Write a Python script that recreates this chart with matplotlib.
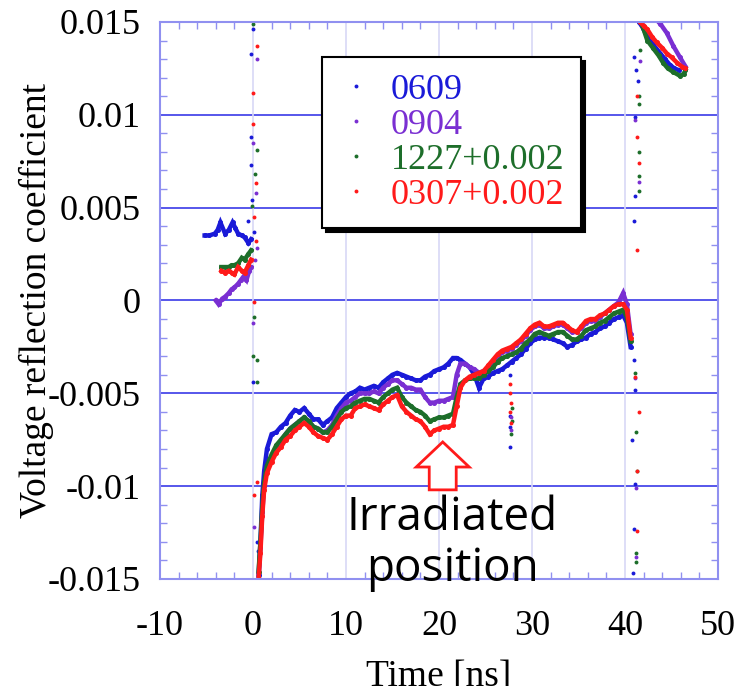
import numpy as np
import matplotlib
matplotlib.use('Agg')
import matplotlib.pyplot as plt
from matplotlib.lines import Line2D
from matplotlib.patches import FancyArrow

plt.rcParams['font.family'] = ['Liberation Serif', 'DejaVu Serif']
plt.rcParams['axes.unicode_minus'] = False
serif = 'Liberation Serif'

# ---- data ----
labels = ['0609', '0904', '1227+0.002', '0307+0.002']
colors = ['#1a1ad8', '#7a2fd2', '#1d6e2a', '#ff1a1a']

# trace before the first reflection (x < 0)
pre_x = {
    '0609': [-5.2, -4.7, -4.1, -3.8, -3.5, -3.0, -2.6, -2.2, -1.9, -1.6, -1.2, -0.9, -0.5, -0.2],
    '0904': [-4.0, -3.7, -3.3, -3.0, -2.6, -2.3, -2.0, -1.6, -1.3, -1.0, -0.7, -0.4, -0.2],
    '1227+0.002': [-3.4, -3.0, -2.6, -2.3, -2.0, -1.6, -1.2, -0.9, -0.5, -0.2],
    '0307+0.002': [-3.4, -3.0, -2.6, -2.3, -2.0, -1.6, -1.2, -0.9, -0.5, -0.2],
}
pre_y = {
    '0609': [0.0035, 0.0035, 0.0036, 0.0038, 0.0042, 0.0036, 0.0038, 0.0042, 0.0039, 0.0036, 0.0035, 0.0034, 0.0031, 0.0033],
    '0904': [0.0, -0.0002, 0.0001, 0.0002, 0.0004, 0.0006, 0.0007, 0.0009, 0.0011, 0.0013, 0.0011, 0.0016, 0.0018],
    '1227+0.002': [0.0018, 0.0018, 0.0018, 0.0019, 0.0019, 0.0020, 0.0023, 0.0022, 0.0025, 0.0027],
    '0307+0.002': [0.0016, 0.0015, 0.0016, 0.0015, 0.0014, 0.0018, 0.0016, 0.0015, 0.0019, 0.0022],
}

# main trace between the two reflections
main_x = [0.6, 0.8, 1.0, 1.2, 1.5, 2.0, 2.5, 3.0, 3.5, 4.0, 4.5, 5.0, 5.5, 6.0, 6.5, 7.0,
          7.5, 8.0, 8.5, 9.0, 9.5, 10.0, 10.5, 11.0, 11.5, 12.0, 12.5, 13.0, 13.5, 14.0,
          14.5, 15.0, 15.5, 16.0, 16.5, 17.0, 17.5, 18.0, 18.5, 19.0, 19.5, 20.0, 20.5,
          21.0, 21.5, 21.9, 22.3, 22.8, 23.3, 23.8, 24.3, 24.8, 25.3, 25.8, 26.3, 26.8,
          27.3, 27.8, 28.3, 28.8, 29.3, 29.8, 30.3, 30.8, 31.3, 31.8, 32.3, 32.8, 33.3,
          33.8, 34.3, 34.8, 35.3, 35.8, 36.3, 36.8, 37.3, 37.8, 38.3, 38.8, 39.3, 39.8,
          40.2, 40.6]
main_y = {
    '0609': [-0.0148, -0.0130, -0.0105, -0.0092, -0.0080, -0.0072, -0.0071, -0.0068, -0.0066,
             -0.0062, -0.0059, -0.0060, -0.0058, -0.0061, -0.0064, -0.0064, -0.0067, -0.0065,
             -0.0063, -0.0058, -0.0055, -0.0052, -0.0050, -0.0049, -0.0047, -0.0048, -0.0047,
             -0.0046, -0.0047, -0.0044, -0.0042, -0.0040, -0.0039, -0.0040, -0.0041, -0.0042,
             -0.0043, -0.0043, -0.0041, -0.0040, -0.0038, -0.0037, -0.0036, -0.0034, -0.0031,
             -0.0031, -0.0032, -0.0034, -0.0036, -0.0040, -0.0047, -0.0042, -0.0041, -0.0039,
             -0.0038, -0.0037, -0.0035, -0.0033, -0.0031, -0.0029, -0.0026, -0.0023, -0.0021,
             -0.0020, -0.0020, -0.0020, -0.0021, -0.0022, -0.0023, -0.0025, -0.0024, -0.0022,
             -0.0021, -0.0020, -0.0018, -0.0017, -0.0015, -0.0014, -0.0012, -0.0010, -0.0009,
             -0.0008, -0.0012, -0.0025],
    '0904': [-0.0150, -0.0133, -0.0114, -0.0100, -0.0090, -0.0084, -0.0079, -0.0076, -0.0072,
             -0.0069, -0.0067, -0.0065, -0.0063, -0.0065, -0.0068, -0.0069, -0.0071, -0.0070,
             -0.0067, -0.0062, -0.0058, -0.0055, -0.0054, -0.0052, -0.0050, -0.0050, -0.0050,
             -0.0049, -0.0050, -0.0047, -0.0045, -0.0043, -0.0043, -0.0045, -0.0047, -0.0047,
             -0.0048, -0.0048, -0.0052, -0.0055, -0.0055, -0.0054, -0.0054, -0.0053, -0.0052,
             -0.0040, -0.0034, -0.0034, -0.0036, -0.0037, -0.0039, -0.0038, -0.0036, -0.0033,
             -0.0030, -0.0028, -0.0027, -0.0026, -0.0024, -0.0022, -0.0019, -0.0016, -0.0014,
             -0.0013, -0.0015, -0.0015, -0.0014, -0.0013, -0.0013, -0.0015, -0.0017, -0.0017,
             -0.0015, -0.0012, -0.0011, -0.0011, -0.0009, -0.0007, -0.0005, -0.0003, -0.0001,
             0.0004, -0.0002, -0.0018],
    '1227+0.002': [-0.0146, -0.0130, -0.0111, -0.0098, -0.0089, -0.0083, -0.0078, -0.0075, -0.0072,
                   -0.0069, -0.0067, -0.0065, -0.0063, -0.0065, -0.0068, -0.0069, -0.0071, -0.0071,
                   -0.0068, -0.0064, -0.0060, -0.0058, -0.0057, -0.0055, -0.0054, -0.0053, -0.0053,
                   -0.0054, -0.0055, -0.0052, -0.0050, -0.0048, -0.0047, -0.0052, -0.0055, -0.0057,
                   -0.0059, -0.0060, -0.0062, -0.0065, -0.0064, -0.0063, -0.0063, -0.0062, -0.0061,
                   -0.0052, -0.0045, -0.0043, -0.0042, -0.0042, -0.0042, -0.0040, -0.0038, -0.0036,
                   -0.0033, -0.0031, -0.0030, -0.0029, -0.0028, -0.0026, -0.0023, -0.0021, -0.0018,
                   -0.0017, -0.0018, -0.0019, -0.0018, -0.0017, -0.0017, -0.0019, -0.0021, -0.0021,
                   -0.0019, -0.0016, -0.0015, -0.0014, -0.0012, -0.0011, -0.0009, -0.0007, -0.0006,
                   -0.0005, -0.0009, -0.0022],
    '0307+0.002': [-0.0150, -0.0136, -0.0116, -0.0102, -0.0093, -0.0087, -0.0082, -0.0079, -0.0075,
                   -0.0073, -0.0070, -0.0068, -0.0066, -0.0068, -0.0071, -0.0073, -0.0074, -0.0075,
                   -0.0072, -0.0068, -0.0064, -0.0062, -0.0062, -0.0058, -0.0057, -0.0056, -0.0057,
                   -0.0058, -0.0059, -0.0056, -0.0054, -0.0052, -0.0051, -0.0057, -0.0060, -0.0062,
                   -0.0064, -0.0065, -0.0068, -0.0072, -0.0070, -0.0069, -0.0068, -0.0068, -0.0067,
                   -0.0057, -0.0047, -0.0043, -0.0041, -0.0040, -0.0039, -0.0038, -0.0035, -0.0032,
                   -0.0029, -0.0027, -0.0026, -0.0025, -0.0023, -0.0021, -0.0018, -0.0015, -0.0013,
                   -0.0012, -0.0014, -0.0014, -0.0013, -0.0012, -0.0012, -0.0014, -0.0016, -0.0017,
                   -0.0014, -0.0011, -0.0010, -0.0010, -0.0008, -0.0007, -0.0005, -0.0003, -0.0002,
                   -0.0002, -0.0005, -0.0020],
}

# trace after the open end (x > 41)
post_x = {
    '0609': [41.5, 41.9, 42.4, 43.0, 43.8, 44.3, 44.8, 45.3, 45.8],
    '0904': [43.6, 43.8, 44.5, 45.2, 45.9, 46.5],
    '1227+0.002': [41.7, 42.0, 42.4, 43.0, 43.6, 44.1, 44.6, 45.2, 45.9, 46.3, 46.5],
    '0307+0.002': [41.6, 42.0, 42.4, 42.9, 43.4, 44.0, 44.5, 45.0, 45.6, 46.1, 46.5],
}
post_y = {
    '0609': [0.0150, 0.0147, 0.0142, 0.0138, 0.0133, 0.0130, 0.0127, 0.0125, 0.0124],
    '0904': [0.0150, 0.0149, 0.0144, 0.0137, 0.0131, 0.0126],
    '1227+0.002': [0.0150, 0.0146, 0.0140, 0.0136, 0.0132, 0.0128, 0.0125, 0.0123, 0.0121, 0.0122, 0.0124],
    '0307+0.002': [0.0150, 0.0148, 0.0146, 0.0142, 0.0139, 0.0136, 0.0133, 0.0131, 0.0128, 0.0126, 0.0125],
}

# isolated samples on the fast edges (x ~ 0, 27.6, 41)
dot_x = {
    '0609': [0.0, -0.2, -0.2, -0.2, -0.1, -0.5, 0.1, 0.0, 0.4, 0.5,
             27.6, 27.6, 27.6, 27.6,
             41.0, 41.1, 40.8, 41.1, 41.0, 40.9, 41.0, 41.1, 41.1, 41.4, 41.2, 41.0],
    '0904': [0.4, 0.0, 0.3, 0.4, 0.0, 0.2, 0.1,
             27.7, 27.7,
             41.1, 41.2, 41.2, 41.5, 41.1, 41.6],
    '1227+0.002': [0.0, 0.4, 0.2, -0.1, 0.1, 0.0, 0.4, 0.4,
                   27.8, 27.8, 27.7,
                   41.1, 41.2, 41.3, 41.2, 41.2, 41.5, 41.5, 41.5, 41.5, 41.5, 41.6],
    '0307+0.002': [0.4, 0.0, 0.0, 0.3, 0.1, 0.1, 0.3, 0.4, 0.1,
                   27.6, 27.6, 27.7, 27.6, 27.7,
                   41.1, 41.5, 41.3, 41.3, 41.3, 41.5, 41.3, 41.3],
}
dot_y = {
    '0609': [0.0146, 0.0133, 0.0088, 0.0073, 0.0054, 0.0043, 0.0037, -0.0044, -0.0130, -0.0135,
             -0.0040, -0.0062, -0.0068, -0.0079,
             -0.0032, -0.0048, -0.0075, -0.0099, -0.0123, -0.0147, 0.0043, 0.0056, 0.0099, 0.0118, 0.0124, 0.0131],
    '0904': [0.0130, 0.0085, 0.0058, 0.0028, -0.0012, 0.0022, -0.0122,
             -0.0063, -0.0070,
             -0.0042, -0.0101, -0.0138, 0.0064, 0.0097, 0.0129],
    '1227+0.002': [0.0149, 0.0081, 0.0068, 0.0051, -0.0009, -0.0030, -0.0032, -0.0044,
                   -0.0058, -0.0065, -0.0072,
                   -0.0039, -0.0071, -0.0092, -0.0136, -0.0141, 0.0059, 0.0067, 0.0080, 0.0106, 0.0110, 0.0135],
    '0307+0.002': [0.0137, 0.0112, 0.0095, 0.0063, 0.0045, -0.0001, 0.0032, -0.0098, -0.0105,
                   -0.0045, -0.0050, -0.0055, -0.0060, -0.0066,
                   -0.0041, -0.0060, -0.0092, -0.0124, 0.0027, 0.0074, 0.0088, 0.0110],
}

fig = plt.figure(figsize=(7.43, 6.86), dpi=100)
ax = fig.add_axes([0.2153, 0.156, 0.7511, 0.812])

for lab, col in zip(labels, colors):
    kw = dict(color=col, lw=3.2, marker='o', ms=2.6, solid_joinstyle='miter')
    ax.plot(pre_x[lab], pre_y[lab], **kw)
    ax.plot(main_x, main_y[lab], **kw)
    ax.plot(post_x[lab], post_y[lab], **kw)
    ax.plot(dot_x[lab], dot_y[lab], ls='none', marker='o', ms=2.8, color=col, mew=0)

ax.set_xlim(-10, 50)
ax.set_ylim(-0.015, 0.015)
ax.set_xticks(np.arange(-10, 51, 10))
ax.set_xticks(np.arange(-10, 51, 2), minor=True)
yt = [-0.015, -0.01, -0.005, 0, 0.005, 0.01, 0.015]
ax.set_yticks(yt)
ax.set_yticklabels(['-0.015', '-0.01', '-0.005', '0', '0.005', '0.01', '0.015'])
ax.set_yticks(np.arange(-0.015, 0.0151, 0.001), minor=True)

ax.grid(False)
for v in yt[1:-1]:
    ax.axhline(v, color='#3a3ae8', lw=1.2, zorder=0)
for v in range(0, 50, 10):
    ax.axvline(v, color='#d8d8f6', lw=1.2, zorder=0)

for s in ax.spines.values():
    s.set_color('#9090f0')
    s.set_linewidth(1.5)
ax.tick_params(which='both', direction='in', top=True, right=True, color='#9090f0')
ax.tick_params(which='major', length=0, labelsize=26)
ax.tick_params(which='minor', length=5, width=1)
ax.tick_params(axis='x', pad=22)
ax.tick_params(axis='y', pad=14)
for t in ax.get_xticklabels() + ax.get_yticklabels():
    t.set_fontfamily(serif)

ax.set_ylabel('Voltage reflection coefficient', fontsize=27, fontfamily=serif)
ax.yaxis.set_label_coords(-0.19, 0.5)
ax.set_xlabel('Time [ns]', fontsize=27, labelpad=12, fontfamily=serif)

handles = [Line2D([], [], ls='none', marker='o', ms=2.8, color=c, mew=0) for c in colors]
leg = ax.legend(handles, labels, loc='upper left', bbox_to_anchor=(0.4334, 0.9169),
                bbox_transform=fig.transFigure, borderaxespad=0,
                prop={'family': serif, 'size': 26},
                labelspacing=0.05, handlelength=1.0, handletextpad=0.45,
                borderpad=0.45, fancybox=False, framealpha=1,
                shadow={'ox': 3, 'oy': -3, 'color': 'black', 'alpha': 1})
leg.get_frame().set_edgecolor('black')
leg.get_frame().set_linewidth(1.5)
for t, c in zip(leg.get_texts(), colors):
    t.set_color(c)

ax.add_patch(FancyArrow(20.4, -0.0102, 0, 0.00258, width=2.9, head_width=5.7,
                        head_length=0.00135, length_includes_head=True,
                        facecolor='white', edgecolor='#ff1a1a', lw=2, zorder=5))
ax.text(21.4, -0.0131, 'Irradiated\nposition', family=['Open Sans', 'DejaVu Sans'],
        fontsize=33, ha='center', va='center', linespacing=1.15, clip_on=False, zorder=6)

fig.savefig('out.png', dpi=100)
